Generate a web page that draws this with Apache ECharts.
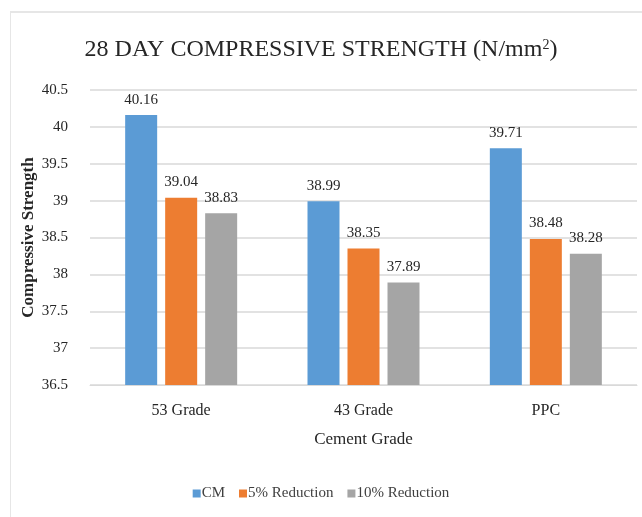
<!DOCTYPE html>
<html><head><meta charset="utf-8">
<script src="https://cdn.jsdelivr.net/npm/echarts@6/dist/echarts.min.js"></script>
<style>
html,body{margin:0;padding:0;background:#fff;}
#frame{position:absolute;left:10px;top:11px;width:632px;height:506px;border-left:1px solid #e6e6e6;border-top:2px solid #e6e6e6;box-sizing:border-box;}
#chart{position:absolute;left:0;top:0;width:642px;height:517px;}
</style>
</head><body>
<div id="frame"></div>
<div id="chart"></div>
<script>
const categories = ['53 Grade', '43 Grade', 'PPC'];
const seriesNames = ['CM', '5% Reduction', '10% Reduction'];
const cmValues = [40.16, 38.99, 39.71];
const red5Values = [39.04, 38.35, 38.48];
const red10Values = [38.83, 37.89, 38.28];
const yTicks = [36.5, 37, 37.5, 38, 38.5, 39, 39.5, 40, 40.5];
const colors = ['#5B9BD5', '#ED7D31', '#A5A5A5'];

const font = '"Liberation Serif", "Times New Roman", serif';
const chart = echarts.init(document.getElementById('chart'), null, {renderer: 'canvas'});
const values = [cmValues, red5Values, red10Values];
chart.setOption({
  animation: false,
  textStyle: {fontFamily: font},
  title: {
    text: '28 DAY COMPRESSIVE STRENGTH (N/mm{sup|2})',
    left: 'center',
    top: 33,
    textStyle: {
      fontFamily: font, fontSize: 24, fontWeight: 'normal', color: '#262626',
      rich: {sup: {fontFamily: font, fontSize: 14, verticalAlign: 'top', padding: [0, 0, 10, 0], color: '#262626'}}
    }
  },
  legend: {
    bottom: 11,
    left: 'center',
    itemWidth: 8, itemHeight: 8, itemGap: 14,
    icon: 'rect',
    textStyle: {fontFamily: font, fontSize: 15, color: '#404040', padding: [0, 0, 0, -4]},
    data: seriesNames
  },
  grid: {left: 90, right: 5, top: 90, bottom: 132, containLabel: false},
  xAxis: {
    type: 'category',
    data: categories,
    name: 'Cement Grade',
    nameLocation: 'middle',
    nameGap: 46,
    nameTextStyle: {fontFamily: font, fontSize: 17, color: '#262626'},
    axisTick: {show: false},
    axisLine: {lineStyle: {color: '#d9d9d9', width: 1}},
    axisLabel: {fontFamily: font, fontSize: 16, color: '#262626', margin: 18}
  },
  yAxis: {
    type: 'value',
    min: yTicks[0],
    max: yTicks[yTicks.length - 1],
    interval: 0.5,
    name: 'Compressive Strength',
    nameLocation: 'middle',
    nameGap: 53,
    nameMoveOverlap: false,
    nameTextStyle: {fontFamily: font, fontSize: 17, fontWeight: 'bold', color: '#262626'},
    axisLine: {show: false},
    axisTick: {show: false},
    splitLine: {lineStyle: {color: '#d9d9d9', width: 1.5}},
    axisLabel: {fontFamily: font, fontSize: 15, color: '#262626', margin: 22}
  },
  series: seriesNames.map((n, i) => ({
    name: n,
    type: 'bar',
    data: values[i],
    barWidth: 32,
    barGap: '25%',
    itemStyle: {color: colors[i]},
    label: {show: true, position: 'top', distance: 8, fontFamily: font, fontSize: 15, color: '#262626'}
  }))
});
</script>
</body></html>
